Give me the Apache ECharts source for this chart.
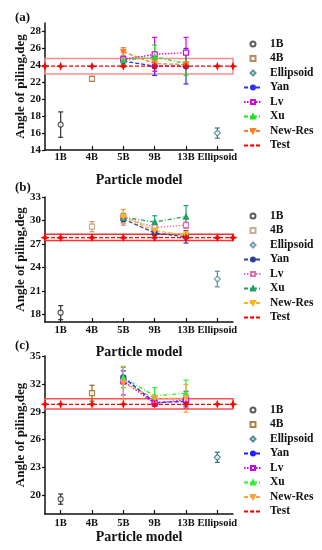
<!DOCTYPE html>
<html><head><meta charset="utf-8">
<script src="https://cdn.jsdelivr.net/npm/echarts@6/dist/echarts.min.js"></script>
<style>html,body{margin:0;padding:0;background:#fff;}#wrap{position:relative;width:322px;height:550px;}.c{position:absolute;left:0;top:0;width:322px;height:550px;}</style>
</head><body><div id="wrap"><div id="ca" class="c"></div><div id="cb" class="c"></div><div id="cc" class="c"></div></div>
<script>
// ---------- DATA ----------
const categories = ['1B', '4B', '5B', '9B', '13B', 'Ellipsoid'];
const singleNames = ['1B', '4B', 'Ellipsoid'];
const modelCats = ['5B', '9B', '13B'];
const modelNames = ['Yan', 'Lv', 'Xu', 'New-Res'];

// Panel (a)
const a_singleValues = [17.0, 22.4, 16.0];
const a_singleErrors = [1.5, 0.3, 0.6];
const a_yan = [24.5, 23.9, 23.9];
const a_yanErr = [0.6, 1.1, 2.1];
const a_lv = [24.7, 25.3, 25.5];
const a_lvErr = [0.9, 2.0, 1.8];
const a_xu = [24.6, 25.0, 24.2];
const a_xuErr = [0.5, 1.4, 1.4];
const a_newres = [25.6, 24.2, 24.1];
const a_newresErr = [0.5, 0.3, 0.3];
const a_test = 23.9;
const a_band = [22.97, 24.8];
const a_yTicks = [14, 16, 18, 20, 22, 24, 26, 28];

// Panel (b)
const b_singleValues = [18.2, 29.2, 22.5];
const b_singleErrors = [0.9, 0.65, 1.0];
const b_yan = [30.2, 28.4, 27.9];
const b_yanErr = [0.4, 0.3, 0.8];
const b_lv = [30.4, 29.1, 29.4];
const b_lvErr = [1.0, 0.5, 0.4];
const b_xu = [30.4, 29.8, 30.5];
const b_xuErr = [0.5, 0.8, 1.4];
const b_newres = [30.5, 28.7, 28.1];
const b_newresErr = [0.9, 0.3, 0.5];
const b_test = 27.8;
const b_band = [27.43, 28.24];
const b_yTicks = [18, 21, 24, 27, 30, 33];

// Panel (c)
const c_singleValues = [19.6, 31.0, 24.1];
const c_singleErrors = [0.55, 0.85, 0.55];
const c_yan = [32.7, 30.0, 30.1];
const c_yanErr = [0.7, 0.4, 0.5];
const c_lv = [32.3, 29.9, 30.3];
const c_lvErr = [1.5, 0.3, 0.9];
const c_xu = [32.7, 30.7, 31.0];
const c_xuErr = [1.1, 0.9, 1.4];
const c_newres = [32.1, 30.45, 30.45];
const c_newresErr = [1.8, 0.3, 1.5];
const c_test = 29.8;
const c_band = [29.3, 30.4];
const c_yTicks = [20, 23, 26, 29, 32, 35];

// ---------- BUILD ----------
const FONT = 'Liberation Serif';
const catPos = name => categories.indexOf(name) + 1;
const starPath = 'path://M0,-5 L1.4,-1.4 L5,0 L1.4,1.4 L0,5 L-1.4,1.4 L-5,0 L-1.4,-1.4 Z';
const squarePath = 'path://M0,0 L10,0 L10,10 L0,10 Z';
const diamondPath = 'path://M5,0 L10,5 L5,10 L0,5 Z';

function errRender(color) {
  return function (params, api) {
    const x = api.value(0), lo = api.value(1), hi = api.value(2);
    const p1 = api.coord([x, lo]), p2 = api.coord([x, hi]);
    const w = 2.5, st = { stroke: color, lineWidth: 1.2 };
    return { type: 'group', children: [
      { type: 'line', shape: { x1: p1[0], y1: p1[1], x2: p2[0], y2: p2[1] }, style: st },
      { type: 'line', shape: { x1: p1[0] - w, y1: p1[1], x2: p1[0] + w, y2: p1[1] }, style: st },
      { type: 'line', shape: { x1: p2[0] - w, y1: p2[1], x2: p2[0] + w, y2: p2[1] }, style: st }
    ]};
  };
}
function errSeries(xs, vals, errs, color) {
  return { type: 'custom', renderItem: errRender(color), silent: true, z: 2,
    encode: { x: 0, y: [1, 2] },
    data: xs.map((x, i) => [x, vals[i] - errs[i], vals[i] + errs[i]]) };
}

function buildPanel(el, P) {
  const chart = echarts.init(document.getElementById(el), null, { renderer: 'canvas' });
  const series = [];
  const singleSymbols = ['circle', squarePath, diamondPath];
  const singleSizes = [5, 5, 6];
  singleNames.forEach((n, i) => {
    const x = catPos(n);
    series.push(errSeries([x], [P.singleValues[i]], [P.singleErrors[i]], P.singleColors[i]));
    series.push({ type: 'scatter', name: n, z: 3, symbol: singleSymbols[i], symbolSize: singleSizes[i],
      itemStyle: { color: '#fff', borderColor: P.singleColors[i], borderWidth: 1.2 },
      data: [[x, P.singleValues[i]]] });
  });
  const mSymbols = ['circle', 'rect', 'triangle', 'path://M-5,-4 L5,-4 L0,5 Z'];
  const mFill = [true, false, true, true];
  const mDash = [[4, 2], [1.5, 1.5], [4, 2, 1, 2], [4, 2]];
  modelNames.forEach((n, i) => {
    const xs = modelCats.map(catPos);
    series.push(errSeries(xs, P.models[i], P.modelErrs[i], P.modelColors[i]));
    series.push({ type: 'line', name: n, z: 4, symbol: mSymbols[i], symbolSize: 5,
      itemStyle: { color: mFill[i] ? P.modelColors[i] : '#fff', borderColor: P.modelColors[i], borderWidth: 1.2 },
      lineStyle: { color: P.modelColors[i], width: 1.3, type: mDash[i] },
      data: xs.map((x, j) => [x, P.models[i][j]]) });
  });
  const testXs = [0.5].concat(categories.map(catPos)).concat([6.5]);
  series.push({ type: 'line', name: 'Test', z: 5, symbol: starPath, symbolSize: 9,
    itemStyle: { color: '#ff0000' },
    lineStyle: { color: '#ff0000', width: 1.2, type: [4, 2] },
    data: testXs.map(x => [x, P.test]),
    markArea: { silent: true, itemStyle: { color: 'rgba(0,0,0,0)', borderColor: P.bandColor, borderWidth: 1.5 },
      data: [[{ yAxis: P.band[0] }, { yAxis: P.band[1] }]] } });

  const legendData = [
    { name: '1B', icon: 'circle' }, { name: '4B', icon: squarePath }, { name: 'Ellipsoid', icon: diamondPath }
  ].concat(modelNames.map(n => ({ name: n }))).concat([{ name: 'Test' }]);
  chart.setOption({
    animation: false,
    backgroundColor: 'transparent',
    textStyle: { fontFamily: FONT },
    title: { text: P.label, left: 10, top: P.labelTop, textStyle: { fontFamily: FONT, fontWeight: 'bold', fontSize: 13, color: '#111' } },
    grid: { left: 45, width: 188, top: P.gridTop, height: P.gridHeight },
    legend: { orient: 'vertical', left: 238, top: P.legendTop, itemWidth: 18, itemHeight: 5, itemGap: 0.5,
      data: legendData,
      textStyle: { fontFamily: FONT, fontWeight: 'bold', fontSize: 11.5, color: '#111', lineHeight: 14, padding: [0, 0, 0, 3] } },
    xAxis: { type: 'value', min: 0.5, max: 6.5,
      name: 'Particle model', nameLocation: 'middle', nameGap: P.xNameGap,
      nameTextStyle: { fontFamily: FONT, fontWeight: 'bold', fontSize: 14, color: '#111' },
      axisLine: { show: true, lineStyle: { color: '#111', width: 1.5 } },
      axisTick: { show: true, inside: true, length: 4, customValues: categories.map(catPos), lineStyle: { color: '#111', width: 1.2 } },
      axisLabel: { customValues: categories.map(catPos), margin: P.xLabelMargin, formatter: v => categories[Math.round(v) - 1] || '',
        fontFamily: FONT, fontWeight: 'bold', fontSize: 10.5, color: '#111' },
      splitLine: { show: false } },
    yAxis: { type: 'value', min: P.yMin, max: P.yMax,
      name: 'Angle of piling,deg', nameLocation: 'middle', nameGap: 18, nameRotate: 90, nameMoveOverlap: false,
      nameTextStyle: { fontFamily: FONT, fontWeight: 'bold', fontSize: 13, color: '#111' },
      axisLine: { show: true, lineStyle: { color: '#111', width: 1.5 } },
      axisTick: { show: true, inside: false, length: 3, customValues: P.yTicks, lineStyle: { color: '#111', width: 1.2 } },
      axisLabel: { customValues: P.yTicks, margin: 4, fontFamily: FONT, fontWeight: 'bold', fontSize: 11, color: '#111' },
      splitLine: { show: false } },
    series: series
  });
}

buildPanel('ca', {
  label: '(a)', labelTop: 6, gridTop: 23, gridHeight: 127, yMin: 14, yMax: 29, yTicks: a_yTicks,
  legendTop: 32, xNameGap: 23, xLabelMargin: 2,
  singleValues: a_singleValues, singleErrors: a_singleErrors,
  singleColors: ['#333333', '#a0703a', '#3f7a8c'],
  models: [a_yan, a_lv, a_xu, a_newres], modelErrs: [a_yanErr, a_lvErr, a_xuErr, a_newresErr],
  modelColors: ['#2f2fff', '#dd00dd', '#22dd22', '#ff7f27'],
  test: a_test, band: a_band, bandColor: '#ff8c8c'
});
buildPanel('cb', {
  label: '(b)', labelTop: 176, gridTop: 197, gridHeight: 125, yMin: 17, yMax: 33, yTicks: b_yTicks,
  legendTop: 204, xNameGap: 23, xLabelMargin: 3,
  singleValues: b_singleValues, singleErrors: b_singleErrors,
  singleColors: ['#333333', '#b8a070', '#5a8aa0'],
  models: [b_yan, b_lv, b_xu, b_newres], modelErrs: [b_yanErr, b_lvErr, b_xuErr, b_newresErr],
  modelColors: ['#3040a0', '#e070b0', '#20a060', '#ffb020'],
  test: b_test, band: b_band, bandColor: '#ff3030'
});
buildPanel('cc', {
  label: '(c)', labelTop: 334, gridTop: 356, gridHeight: 158, yMin: 18, yMax: 35, yTicks: c_yTicks,
  legendTop: 398, xNameGap: 16, xLabelMargin: 4,
  singleValues: c_singleValues, singleErrors: c_singleErrors,
  singleColors: ['#333333', '#a0601a', '#2a7080'],
  models: [c_yan, c_lv, c_xu, c_newres], modelErrs: [c_yanErr, c_lvErr, c_xuErr, c_newresErr],
  modelColors: ['#1f1fff', '#cc00ee', '#33ee33', '#ffa040'],
  test: c_test, band: c_band, bandColor: '#ff5050'
});
</script></body></html>
